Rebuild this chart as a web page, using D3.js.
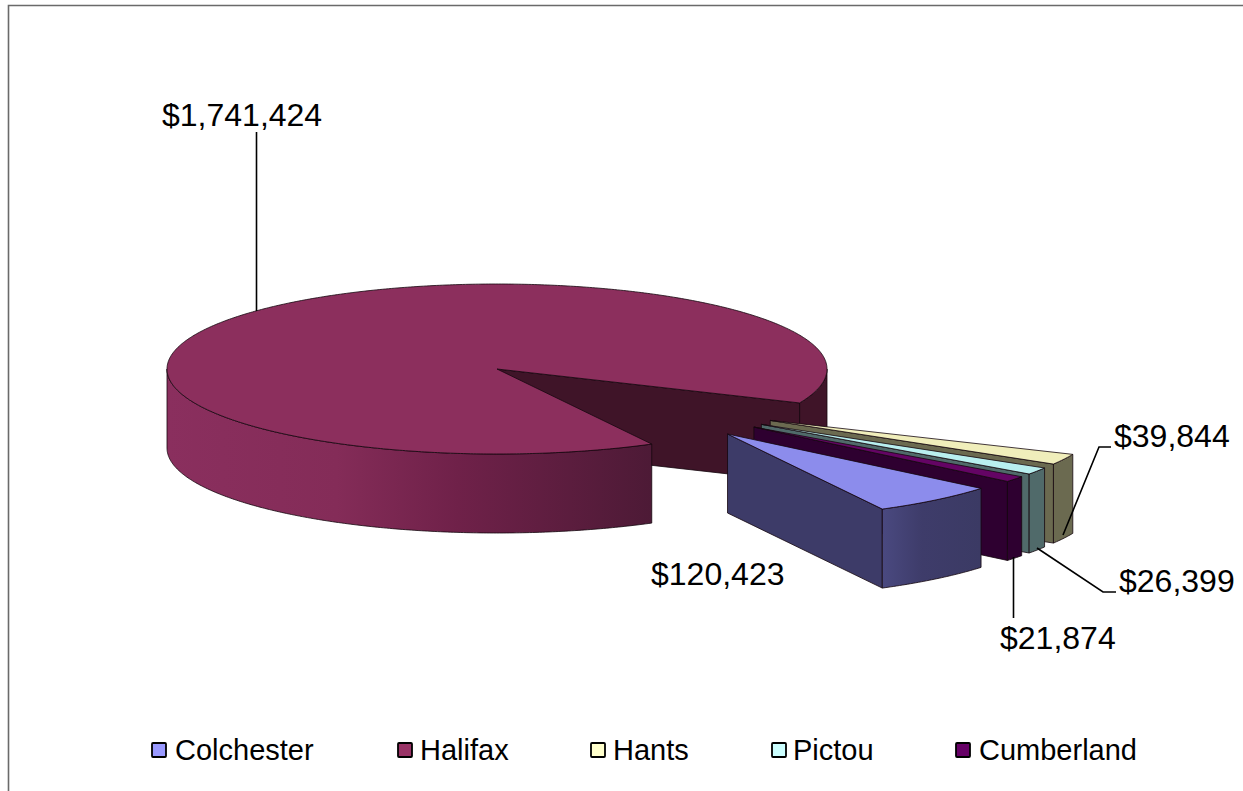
<!DOCTYPE html>
<html>
<head>
<meta charset="utf-8">
<title>Regional totals</title>
<script src="https://cdn.jsdelivr.net/npm/d3@7/dist/d3.min.js"></script>
<style>
  html, body { margin: 0; padding: 0; background: #fff; }
  svg { display: block; }
  text { font-family: "Liberation Sans", Arial, sans-serif; fill: #000; }
</style>
</head>
<body>
<svg id="chart" width="1243" height="791"></svg>
<script>
// Chart data
const regions = ["Colchester", "Halifax", "Hants", "Pictou", "Cumberland"];
const amounts = [120423, 1741424, 39844, 26399, 21874];

// Per-region styling
const legendFill = ["#9999ff", "#993366", "#ffffcc", "#ccffff", "#660066"];
const topFill = ["#8c8cec", "#8c2f5d", "#f0eebb", "#b8efef", "#640464"];
const sideFill = ["#3d3b68", "#3f1428", "#6b6a50", "#506a6a", "#2e0030"];
const explodeBy = [0.5, 0, 0.5, 0.5, 0.5];

// Layout of the tilted pie
const W = 1243, H = 791;
const centre = { x: 497, y: 369 };
const radiusX = 330, radiusY = 85, depth = 79;
const groupShift = { x: 126.5, y: 32 };
const pieStart = 129.8 * Math.PI / 180;

// Annotation layout: value labels and their leader lines
const labelAt = [
  { x: 651, y: 585, leader: null },
  { x: 162, y: 126, leader: [[256.5, 132], [256.5, 311]] },
  { x: 1114, y: 447, leader: [[1111, 447], [1099, 447], [1063, 535]] },
  { x: 1119, y: 592, leader: [[1116, 592], [1103, 592], [1037, 548]] },
  { x: 1000, y: 649, leader: [[1013.5, 618], [1013.5, 557]] }
];

// Legend layout
const legendSwatchX = [152, 398, 591, 772, 956];
const legendTextX = [175, 420, 613, 793, 979];
const legendY = 750;

const svg = d3.select("#chart");
const edge = { stroke: "#14060e", "stroke-width": 0.8, "stroke-linejoin": "round" };

// Unit-circle to screen scales; x and y squash the circle into the tilted ellipse
const xScale = d3.scaleLinear().domain([-1, 1]).range([-radiusX, radiusX]);
const yScale = d3.scaleLinear().domain([-1, 1]).range([-radiusY, radiusY]);

const pie = d3.pie().sort(null).startAngle(pieStart).endAngle(pieStart + 2 * Math.PI);
const slices = pie(amounts).map((s, i) => {
  const mid = (s.startAngle + s.endAngle) / 2 - Math.PI / 2;
  const k = explodeBy[i];
  const ox = centre.x + (k ? groupShift.x + k * xScale(Math.cos(mid)) : 0);
  const oy = centre.y + (k ? groupShift.y + k * yScale(Math.sin(mid)) : 0);
  return { i, start: s.startAngle, end: s.endAngle, ox, oy };
});

const rim = (s, a, drop = 0) => [
  s.ox + xScale(Math.cos(a - Math.PI / 2)),
  s.oy + yScale(Math.sin(a - Math.PI / 2)) + drop
];
const arcPts = (s, a0, a1, drop = 0) => {
  const n = Math.max(2, Math.ceil(Math.abs(a1 - a0) / 0.01));
  return d3.range(n + 1).map(j => rim(s, a0 + (a1 - a0) * j / n, drop));
};
const line = d3.line();
const closed = pts => line(pts) + "Z";
const apply = (sel, attrs) => { Object.entries(attrs).forEach(([k, v]) => sel.attr(k, v)); return sel; };

// Frame around the chart area, running off the right and bottom edges
svg.append("path")
  .attr("d", line([[8.5, H], [8.5, 5.5], [W, 5.5]]))
  .attr("fill", "none").attr("stroke", "#6a6a6a").attr("stroke-width", 1.6);

// Horizontal shading used on the curved outer walls
const defs = svg.append("defs");
function wallGradient(id, x0, x1, stops) {
  const g = defs.append("linearGradient").attr("id", id)
    .attr("gradientUnits", "userSpaceOnUse")
    .attr("x1", x0).attr("x2", x1).attr("y1", 0).attr("y2", 0);
  stops.forEach(([o, c]) => g.append("stop").attr("offset", o).attr("stop-color", c));
  return `url(#${id})`;
}

function face(d, fill) {
  return apply(svg.append("path").attr("d", d).attr("fill", fill), edge);
}
const wall = (s, a0, a1) => closed([...arcPts(s, a0, a1), ...arcPts(s, a1, a0, depth)]);
const cutFace = (s, a) => {
  const p = rim(s, a), q = rim(s, a, depth);
  return closed([[s.ox, s.oy], p, q, [s.ox, s.oy + depth]]);
};
const topFace = s => closed([[s.ox, s.oy], ...arcPts(s, s.start, s.end)]);

// The large slice: rear wall, exposed cut, front wall and top
const big = slices[1];
const east = Math.PI / 2 + 2 * Math.PI;
const west = Math.PI * 3 / 2;
face(wall(big, east, big.end), sideFill[1]);
face(cutFace(big, big.end), sideFill[1]);
const bigShade = wallGradient("wall-big", centre.x - radiusX, big.ox + xScale(Math.cos(big.start - Math.PI / 2)), [
  [0, "#8a2f5e"], [0.35, "#842c58"], [0.6, "#6f2149"], [1, "#4d1a36"]
]);
face(wall(big, big.start, west), bigShade);
face(topFace(big), topFill[1]);

// The pulled-out slices, painted from the back towards the viewer
[2, 3, 4, 0].forEach(i => {
  const s = slices[i];
  face(cutFace(s, s.end), sideFill[i]);
  let fill = sideFill[i];
  if (i === 0) {
    const xa = rim(s, s.end)[0], xb = rim(s, s.start)[0];
    fill = wallGradient("wall-small", xa, xb, [[0, "#4a4980"], [0.4, "#3e3c6a"], [1, "#3b3a64"]]);
  }
  face(wall(s, s.start, s.end), fill);
  face(topFace(s), topFill[i]);
});

// Value labels and leader lines
const money = d3.format("$,");
labelAt.forEach((l, i) => {
  if (l.leader) {
    svg.append("path").attr("d", line(l.leader))
      .attr("fill", "none").attr("stroke", "#000").attr("stroke-width", 1.6);
  }
  svg.append("text").attr("x", l.x).attr("y", l.y)
    .attr("font-size", 32).text(money(amounts[i]));
});

// Legend
regions.forEach((name, i) => {
  svg.append("rect")
    .attr("x", legendSwatchX[i]).attr("y", legendY - 7)
    .attr("width", 14).attr("height", 14).attr("rx", 1)
    .attr("fill", legendFill[i]).attr("stroke", "#000").attr("stroke-width", 1.8);
  svg.append("text").attr("x", legendTextX[i]).attr("y", legendY + 10)
    .attr("font-size", 29).text(name);
});
</script>
</body>
</html>
